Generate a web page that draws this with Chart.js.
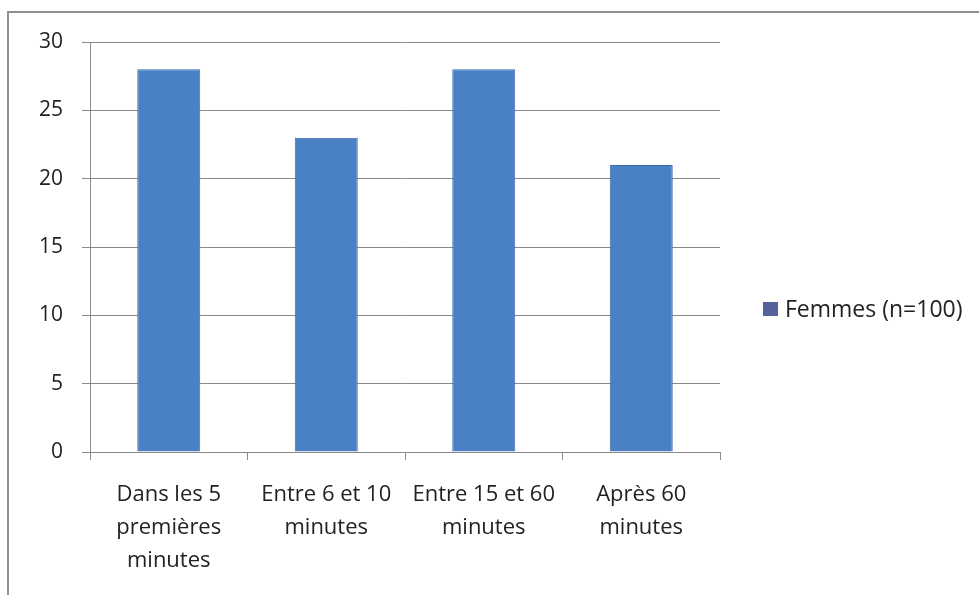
<!DOCTYPE html>
<html>
<head>
<meta charset="utf-8">
<script src="https://cdn.jsdelivr.net/npm/chart.js@4"></script>
<style>
  html, body { margin: 0; padding: 0; background: #fff; overflow: hidden; }
  #frame {
    position: absolute; left: 7px; top: 11px; right: -5px; bottom: -5px;
    border-left: 2px solid #8f8f8f; border-top: 2px solid #8f8f8f;
  }
  #wrap { position: absolute; left: 0; top: 0; width: 979px; height: 595px; }
</style>
</head>
<body>
<div id="frame"></div>
<div id="wrap"><canvas id="chart" width="979" height="595"></canvas></div>
<script>
// Data
const categories = [
    ['Dans les 5', 'premières', 'minutes'],
    ['Entre 6 et 10', 'minutes'],
    ['Entre 15 et 60', 'minutes'],
    ['Après 60', 'minutes']
];
const seriesName = 'Femmes (n=100)';
const femmes = [28, 23, 28, 21];
const yTicks = [0, 5, 10, 15, 20, 25, 30];

const fontFamily = "'Open Sans', sans-serif";
const gridColor = '#8a8a8a';

// Legend drawn like Excel's: square + label on the right
const sideLegend = {
    id: 'sideLegend',
    afterDraw(chart) {
        const ctx = chart.ctx;
        const ds = chart.data.datasets[0];
        ctx.save();
        ctx.fillStyle = '#56629a';
        ctx.fillRect(763, 302, 15, 14);
        ctx.fillStyle = '#222';
        ctx.font = `23px ${fontFamily}`;
        ctx.textBaseline = 'middle';
        ctx.textAlign = 'left';
        ctx.fillText(ds.label, 785, 310);
        ctx.restore();
    }
};

new Chart(document.getElementById('chart'), {
    type: 'bar',
    data: {
        labels: categories,
        datasets: [{
            label: seriesName,
            data: femmes,
            backgroundColor: '#4a80c4',
            borderColor: '#3d6cae',
            borderWidth: 1,
            categoryPercentage: 1,
            barPercentage: 0.4
        }]
    },
    options: {
        responsive: false,
        animation: false,
        layout: { padding: { left: 0, right: 259, top: 42, bottom: 0 } },
        plugins: {
            legend: { display: false },
            tooltip: { enabled: false }
        },
        scales: {
            x: {
                afterFit: s => { s.height = 143; },
                grid: { drawOnChartArea: false, drawTicks: true, tickLength: 8, color: gridColor, offset: true },
                border: { display: true, color: gridColor },
                ticks: {
                    color: '#222',
                    padding: 18,
                    maxRotation: 0,
                    autoSkip: false,
                    font: { family: fontFamily, size: 22, lineHeight: 1.5 }
                }
            },
            y: {
                min: 0,
                max: 30,
                afterFit: s => { s.width = 90; },
                afterBuildTicks: s => { s.ticks = yTicks.map(v => ({ value: v })); },
                grid: { color: gridColor, tickLength: 8 },
                border: { display: true, color: gridColor },
                ticks: {
                    color: '#222',
                    padding: 19,
                    font: { family: fontFamily, size: 21 }
                }
            }
        }
    },
    plugins: [sideLegend]
});
</script>
</body>
</html>
